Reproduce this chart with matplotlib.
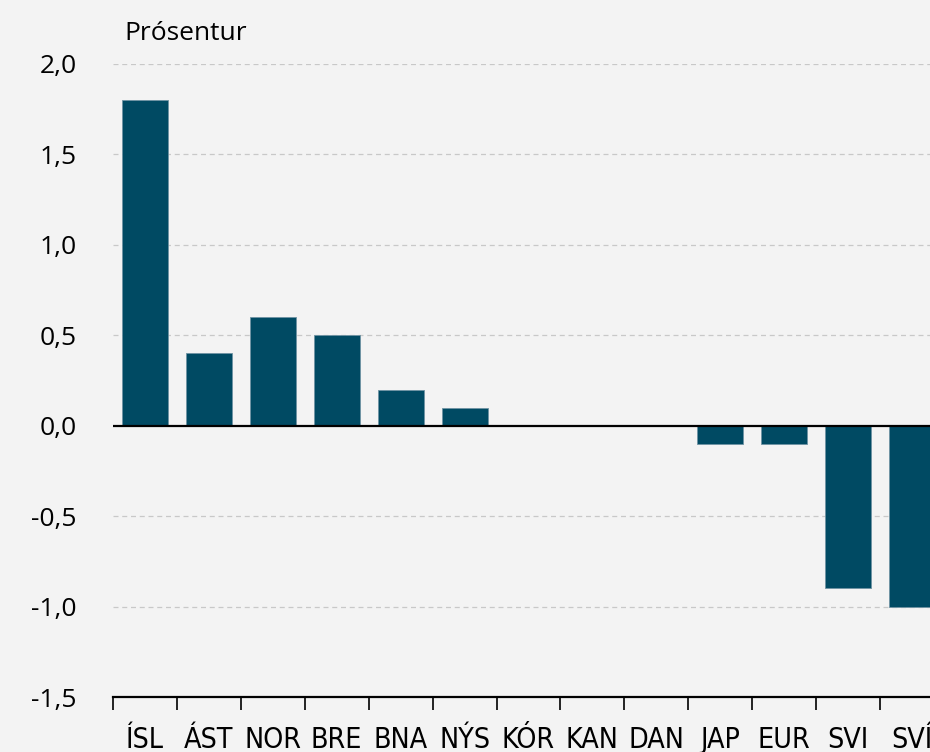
import matplotlib
matplotlib.use("Agg")
import matplotlib.pyplot as plt
import numpy as np

# gögn
lond = ['ÍSL', 'ÁST', 'NOR', 'BRE', 'BNA', 'NÝS', 'KÓR', 'KAN', 'DAN', 'JAP', 'EUR', 'SVI', 'SVÍ']
gildi = [1.8, 0.4, 0.6, 0.5, 0.2, 0.1, 0.0, 0.0, 0.0, -0.1, -0.1, -0.9, -1.0]
y_ticks = [-1.5, -1.0, -0.5, 0.0, 0.5, 1.0, 1.5, 2.0]

bg = '#f3f3f3'
bar_col = '#004a63'

fig = plt.figure(figsize=(9.3, 7.52), dpi=100, facecolor=bg)
ax = fig.add_axes([113/930, 1-697/752, 831/930, (697-64)/752])
ax.set_facecolor(bg)

x = np.arange(len(lond))
ax.bar(x, gildi, width=0.72, color=bar_col, edgecolor='#6f93a3', linewidth=0.6, zorder=3)

ax.set_xlim(-0.5, len(lond) - 0.5)
ax.set_ylim(-1.5, 2.0)
ax.set_yticks(y_ticks)
ax.set_yticklabels([f'{v:.1f}'.replace('.', ',') for v in y_ticks],
                   family=['Open Sans', 'DejaVu Sans'], fontsize=19)
for v in y_ticks:
    if v not in (0.0, -1.5):
        ax.axhline(v, color='#c8c8c8', lw=0.9, ls=(0, (4, 3)), zorder=1)
ax.axhline(0, color='black', lw=1.6, zorder=4)

ax.set_xticks(x)
ax.set_xticklabels(lond, family='DejaVu Sans', stretch='condensed', fontsize=20.5)
ax.set_xticks(np.arange(-0.5, len(lond), 1.0), minor=True)
ax.tick_params(axis='x', which='major', length=0, pad=21)
ax.tick_params(axis='x', which='minor', length=9, width=1.2, color='black')
ax.tick_params(axis='y', length=0, pad=26)

for s in ['top', 'right', 'left']:
    ax.spines[s].set_visible(False)
ax.spines['bottom'].set_linewidth(1.6)

fig.text(124/930, 1-33/752, 'Prósentur', family=['Open Sans', 'DejaVu Sans'],
         fontsize=19, va='center', ha='left')

fig.savefig('out.png', dpi=100, facecolor=bg)
